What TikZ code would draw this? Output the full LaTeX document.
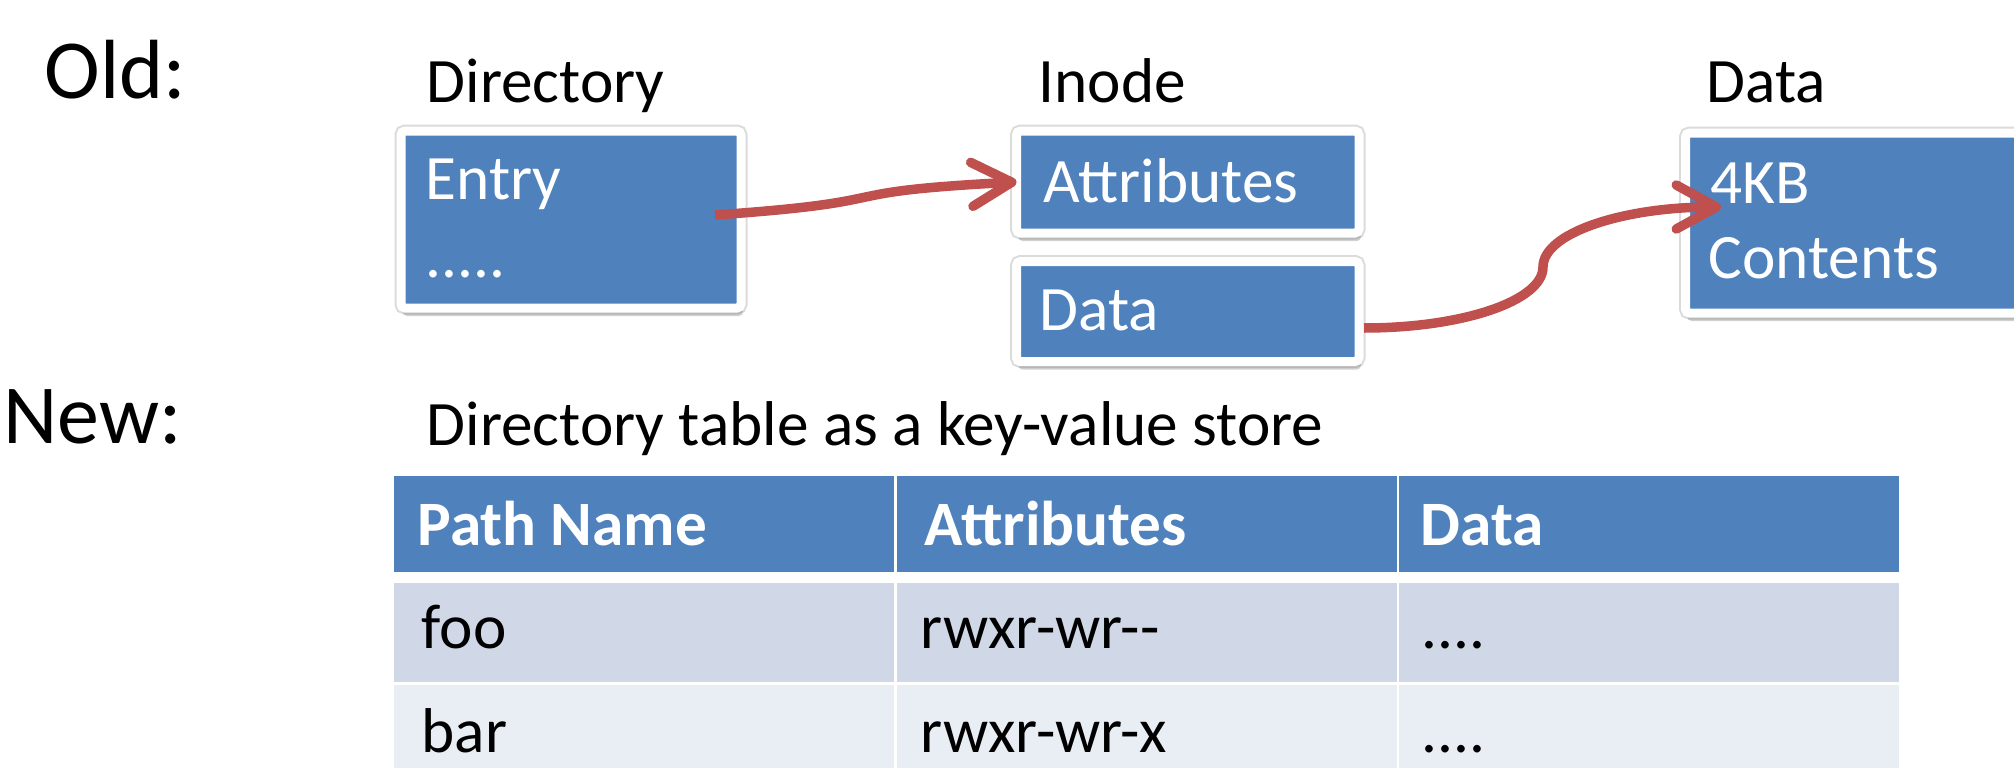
\documentclass[tikz,border=0pt]{standalone}
\usepackage{fontspec}
\setmainfont{Carlito}
\usetikzlibrary{arrows.meta,positioning,shadows}
\definecolor{boxblue}{RGB}{79,129,189}
\definecolor{linkred}{RGB}{192,80,77}
\definecolor{rowdark}{RGB}{208,216,232}
\definecolor{rowlight}{RGB}{233,237,244}

\begin{document}
\begin{tikzpicture}[
  txt/.style={inner sep=0, anchor=base west, font=\fontsize{18}{22}\selectfont},
  wtxt/.style={txt, text=white},
  hdtxt/.style={wtxt, font=\fontsize{18}{22}\selectfont\bfseries},
  heading/.style={inner sep=0, anchor=base west, font=\fontsize{23.9}{28}\selectfont},
  blk/.style={draw=white, line width=0.09cm, fill=boxblue, rounded corners=0.04cm, inner sep=0, outer sep=0,
    preaction={draw=black!14, line width=0.13cm},
    drop shadow={shadow xshift=0.02cm, shadow yshift=-0.08cm, opacity=0.3, fill=black!60}},
  cell/.style={fill=#1, inner sep=0, outer sep=0, minimum width=5.00cm, anchor=north west},
  link/.style={draw=linkred, line width=0.095cm, -{Straight Barb[length=0.4cm, width=0.44cm, round]},
    preaction={draw=black!45, opacity=0.35, transform canvas={shift={(0.01cm,-0.035cm)}}}}
]
\useasboundingbox (0,0) rectangle (20.14,-7.68);
\clip (0,0) rectangle (20.14,-7.68);

% old layout: directory -> inode -> data block
\node[heading] (old) at (0.44,-0.99) {Old:};
\node[txt] (dirlbl) at (4.26,-1.02) {Directory};
\node[txt] (inodelbl) at (10.38,-1.02) {Inode};
\node[txt] (datalbl) at (17.06,-1.02) {Data};

\node[blk, minimum width=3.40cm, minimum height=1.77cm] (dir) at (5.71,-2.195) {};
\node[blk, minimum width=3.425cm, minimum height=1.02cm] (attr) at (11.8775,-1.82) {};
\node[blk, minimum width=3.425cm, minimum height=1.00cm, below=0.285cm of attr] (ptr) {};
\node[blk, minimum width=4.20cm, minimum height=1.80cm] (blocks) at (18.955,-2.23) {};

\node[wtxt] (entry) at (4.25,-1.99) {Entry};
\node[wtxt] (dots) at (4.25,-2.77) {.....};
\node[wtxt] (attrtxt) at (10.43,-2.02) {Attributes};
\node[wtxt] (ptrtxt) at (10.39,-3.30) {Data};
\node[wtxt] (kb) at (17.10,-2.03) {4KB};
\node[wtxt] (contents) at (17.08,-2.78) {Contents};

\draw[link] ([xshift=-0.26cm, yshift=0.045cm]dir.east) .. controls +(4:2.0) and +(183:2.0) .. (attr.west);
\draw[link] ([xshift=0.05cm, yshift=-0.165cm]ptr.east) .. controls +(0.98,0) and +(0,-0.34) .. +(1.79,0.61)
  .. controls +(0,0.34) and +(-0.98,0) .. ([xshift=0.355cm, yshift=0.16cm]blocks.west);

% new layout: one key-value table
\node[heading] (new) at (0.03,-4.43) {New:};
\node[txt] (tbllbl) at (4.26,-4.45) {Directory table as a key-value store};

\foreach \col/\cx in {1/3.94, 2/8.97, 3/13.99} {
  \node[cell=boxblue, minimum height=0.96cm] (head\col) at (\cx,-4.76) {};
  \node[cell=rowdark, minimum height=0.99cm] (rowa\col) at (\cx,-5.83) {};
  \node[cell=rowlight, minimum height=1.00cm] (rowb\col) at (\cx,-6.85) {};
}
\node[hdtxt] (pathhd) at (4.17,-5.45) {Path Name};
\node[hdtxt] (attrhd) at (9.24,-5.45) {Attributes};
\node[hdtxt] (datahd) at (14.20,-5.45) {Data};

\foreach \i/\y/\n/\a in {1/-6.48/foo/rwxr-wr-{}-, 2/-7.52/bar/rwxr-wr-x} {
  \node[txt] (name\i) at (4.21,\y) {\n};
  \node[txt] (perm\i) at (9.20,\y) {\a};
  \node[txt] (val\i) at (14.21,\y) {....};
}
\end{tikzpicture}
\end{document}
